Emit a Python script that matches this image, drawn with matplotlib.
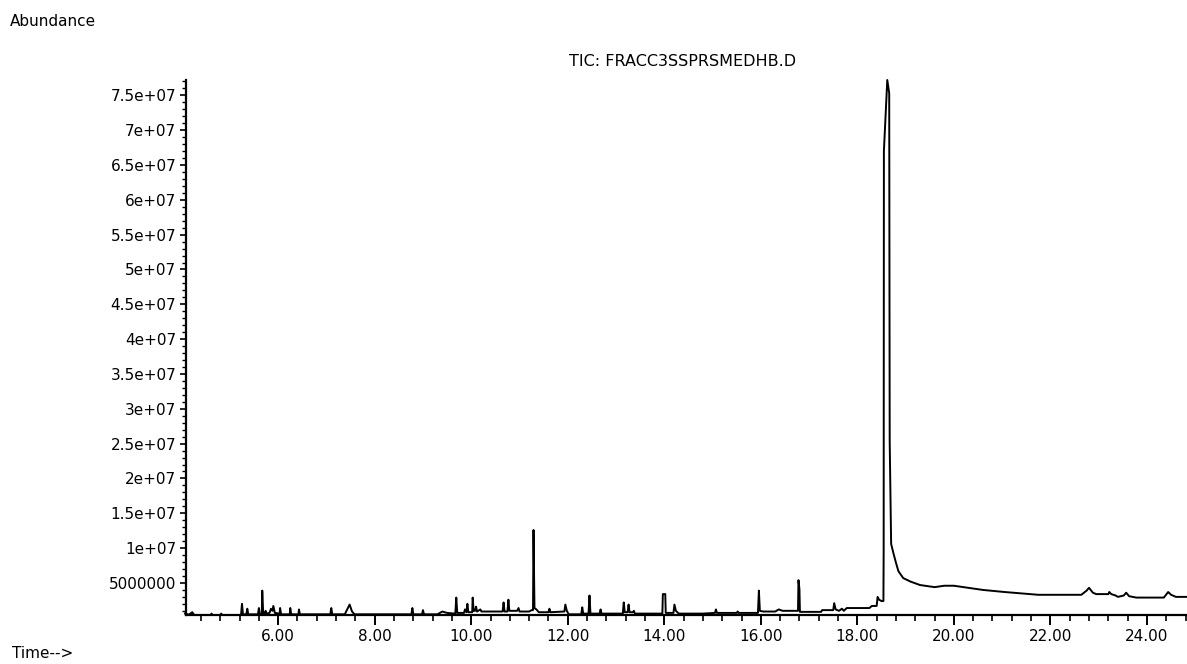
import numpy as np
import matplotlib
matplotlib.use("Agg")
import matplotlib.pyplot as plt
from matplotlib.ticker import MultipleLocator, FuncFormatter

# Cromatograma TIC (tiempo en min, abundancia en millones de cuentas)
tiempo = np.array([
    4.07, 4.15, 4.22, 4.26, 4.60, 4.62, 4.64, 4.80, 4.82, 4.84,
    5.23, 5.25, 5.27, 5.34, 5.36, 5.38, 5.58, 5.60, 5.62, 5.66,
    5.67, 5.69, 5.72, 5.74, 5.76, 5.82, 5.85, 5.88, 5.90, 5.93,
    6.03, 6.04, 6.06, 6.24, 6.25, 6.27, 6.42, 6.43, 6.45, 6.90,
    7.08, 7.10, 7.12, 7.38, 7.45, 7.48, 7.53, 7.58, 8.76, 8.78,
    8.80, 8.98, 9.00, 9.02, 9.30, 9.40, 9.50, 9.67, 9.69, 9.71,
    9.85, 9.87, 9.90, 9.92, 9.94, 10.02, 10.03, 10.05, 10.08, 10.10,
    10.12, 10.19, 10.21, 10.40, 10.65, 10.67, 10.69, 10.75, 10.77, 10.79,
    10.95, 10.98, 11.00, 11.20, 11.25, 11.28, 11.29, 11.31, 11.35, 11.40,
    11.60, 11.62, 11.64, 11.93, 11.95, 11.98, 12.02, 12.28, 12.30, 12.32,
    12.43, 12.45, 12.47, 12.66, 12.68, 12.70, 12.90, 13.14, 13.16, 13.18,
    13.24, 13.26, 13.28, 13.35, 13.37, 13.39, 13.60, 13.96, 13.97, 14.02,
    14.03, 14.19, 14.21, 14.24, 14.30, 14.80, 15.05, 15.07, 15.09, 15.50,
    15.52, 15.54, 15.94, 15.96, 15.98, 16.05, 16.30, 16.37, 16.45, 16.77,
    16.78, 16.80, 16.81, 17.25, 17.27, 17.50, 17.52, 17.55, 17.62, 17.68,
    17.72, 17.78, 18.25, 18.30, 18.40, 18.42, 18.45, 18.50, 18.54, 18.545,
    18.55, 18.62, 18.66, 18.67, 18.70, 18.75, 18.80, 18.85, 18.95, 19.10,
    19.30, 19.60, 19.80, 20.00, 20.30, 20.60, 21.05, 21.75, 22.64, 22.75,
    22.80, 22.88, 22.95, 23.20, 23.22, 23.26, 23.35, 23.40, 23.52, 23.57,
    23.63, 23.78, 24.35, 24.44, 24.50, 24.60, 24.85,
])
abundancia = np.array([
    0.6, 0.45, 0.8, 0.4, 0.4, 0.6, 0.4, 0.4, 0.6, 0.4,
    0.4, 2.0, 0.5, 0.5, 1.3, 0.5, 0.5, 1.4, 0.5, 0.5,
    3.9, 0.6, 0.6, 1.0, 0.6, 0.7, 1.3, 1.0, 1.7, 0.7,
    0.6, 1.4, 0.5, 0.5, 1.4, 0.5, 0.5, 1.2, 0.5, 0.5,
    0.5, 1.4, 0.5, 0.5, 1.5, 1.9, 0.9, 0.5, 0.5, 1.4,
    0.5, 0.5, 1.1, 0.5, 0.5, 0.9, 0.7, 0.6, 2.9, 0.7,
    0.7, 1.2, 0.8, 2.0, 0.8, 0.8, 2.9, 1.0, 1.0, 1.6,
    0.9, 1.2, 0.9, 0.9, 0.9, 2.2, 0.9, 0.9, 2.6, 1.0,
    1.0, 1.4, 0.9, 0.9, 1.1, 1.1, 12.6, 1.4, 1.2, 0.8,
    0.8, 1.3, 0.8, 0.9, 1.9, 1.0, 0.5, 0.5, 1.5, 0.6,
    0.6, 3.2, 0.6, 0.6, 1.2, 0.6, 0.6, 0.6, 2.2, 0.8,
    0.8, 1.9, 0.8, 0.8, 1.0, 0.6, 0.6, 0.6, 3.4, 3.4,
    0.7, 0.7, 1.9, 1.0, 0.6, 0.6, 0.7, 1.2, 0.7, 0.7,
    0.9, 0.7, 0.7, 3.9, 1.0, 0.9, 0.9, 1.2, 1.0, 1.0,
    5.4, 4.1, 0.85, 0.85, 1.1, 1.1, 2.1, 1.2, 1.0, 1.3,
    1.0, 1.4, 1.4, 1.7, 1.7, 3.0, 2.6, 2.4, 2.4, 9.6,
    67.0, 77.2, 75.3, 25.4, 10.6, 9.2, 7.9, 6.7, 5.7, 5.2,
    4.7, 4.4, 4.6, 4.6, 4.3, 4.0, 3.7, 3.3, 3.3, 3.9,
    4.3, 3.6, 3.4, 3.4, 3.7, 3.4, 3.2, 3.0, 3.2, 3.6,
    3.1, 2.9, 2.9, 3.7, 3.3, 3.0, 3.0,
])

titulo = "TIC: FRACC3SSPRSMEDHB.D"
y_ticks = np.arange(5e6, 7.6e7, 5e6)
x_ticks = np.arange(6, 25, 2)

fig = plt.figure(figsize=(11.87, 6.64), dpi=100)
ax = fig.add_axes([186 / 1187, 1 - 615 / 664, 1 - 186 / 1187, (615 - 80) / 664])

ax.plot(tiempo, abundancia * 1e6, color="black", lw=1.4, clip_on=False)

ax.set_xlim(4.09, 24.83)
ax.set_ylim(0.4e6, 7.72e7)

for lado in ("top", "right"):
    ax.spines[lado].set_visible(False)
for lado in ("left", "bottom"):
    ax.spines[lado].set_linewidth(1.6)

ax.set_xticks(x_ticks)
ax.xaxis.set_minor_locator(MultipleLocator(0.4))
ax.xaxis.set_major_formatter(FuncFormatter(lambda v, p: "%.2f" % v))
ax.set_yticks(y_ticks)
ax.yaxis.set_minor_locator(MultipleLocator(1e6))
ax.yaxis.set_major_formatter(FuncFormatter(lambda v, p: "%.7g" % v))

ax.tick_params(axis="x", which="major", length=7, width=1.4, labelsize=11, pad=3)
ax.tick_params(axis="x", which="minor", length=4, width=1.2)
ax.tick_params(axis="y", which="major", length=4, width=1.2, labelsize=11, pad=3)
ax.tick_params(axis="y", which="minor", length=3, width=1.0)

fig.text(10 / 1187, 1 - 22 / 664, "Abundance", fontsize=11, ha="left", va="center")
fig.text(12 / 1187, 1 - 653 / 664, "Time-->", fontsize=11, ha="left", va="center")
fig.text(683 / 1187, 1 - 62 / 664, titulo, fontsize=11.5, ha="center", va="center")

fig.savefig("out.png", dpi=100)
